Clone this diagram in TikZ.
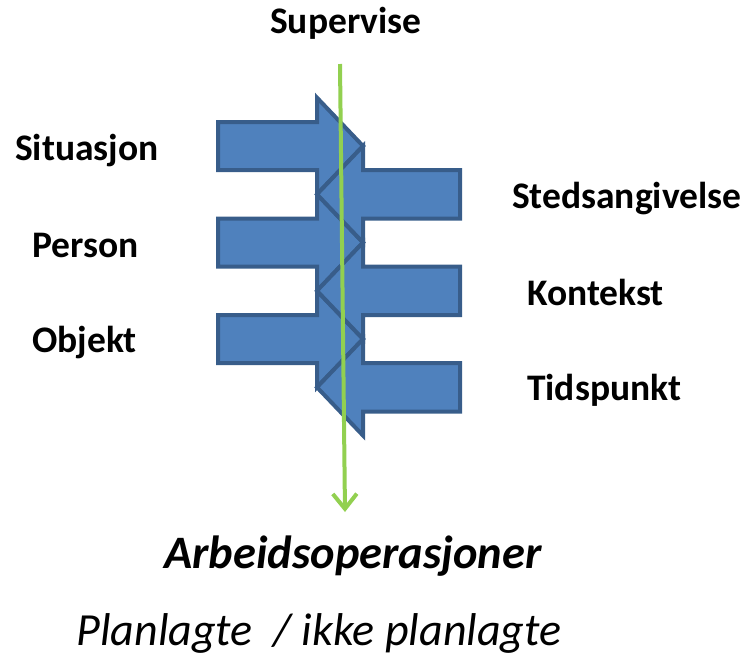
\documentclass[tikz,border=0pt]{standalone}
\usepackage{fontspec}
\setmainfont{Carlito}
\usepackage{tikz}
\usetikzlibrary{arrows.meta}

\definecolor{arrowfill}{HTML}{4F81BD}
\definecolor{arrowline}{HTML}{385D8A}
\definecolor{supgreen}{HTML}{92D050}

\tikzset{
  blockarrow/.style={fill=arrowfill, draw=arrowline, line width=4pt, line join=miter},
  sidelabel/.style={anchor=base west, inner sep=0pt, font=\fontsize{37.5}{44}\selectfont\bfseries},
}

\begin{document}
\begin{tikzpicture}[x=1pt, y=-1pt]
      \useasboundingbox (0, 0) rectangle (744, 659);
      % arrows pointing right
      \draw[blockarrow] (218, 122) -- (317, 122) -- (317, 97.7) -- (363, 146) -- (317, 194.3) -- (317, 170) -- (218, 170) -- cycle;
      \draw[blockarrow] (218, 218.5) -- (317, 218.5) -- (317, 194.3) -- (363, 242.5) -- (317, 290.8) -- (317, 266.5) -- (218, 266.5) -- cycle;
      \draw[blockarrow] (218, 315) -- (317, 315) -- (317, 290.8) -- (363, 339) -- (317, 387.3) -- (317, 363) -- (218, 363) -- cycle;
      % arrows pointing left
      \draw[blockarrow] (460, 170) -- (363, 170) -- (363, 146) -- (317, 194.3) -- (363, 242.5) -- (363, 218.5) -- (460, 218.5) -- cycle;
      \draw[blockarrow] (460, 266.5) -- (363, 266.5) -- (363, 242.5) -- (317, 290.8) -- (363, 339) -- (363, 315) -- (460, 315) -- cycle;
      \draw[blockarrow] (460, 363) -- (363, 363) -- (363, 339) -- (317, 387.3) -- (363, 435.5) -- (363, 411.5) -- (460, 411.5) -- cycle;
      % supervise line
      \coordinate (suptop) at (340, 64);
      \coordinate (supend) at (345, 512);
      \draw[supgreen, line width=4pt, -{Straight Barb[length=15pt, width=24pt]}] (suptop) -- (supend);
      % labels
      \node[sidelabel] (supervise) at (270, 33) {Supervise};
      \node[sidelabel] (situasjon) at (15, 160) {Situasjon};
      \node[sidelabel] (person) at (32, 257) {Person};
      \node[sidelabel] (objekt) at (32, 352) {Objekt};
      \node[sidelabel] (sted) at (512, 208) {Stedsangivelse};
      \node[sidelabel] (kontekst) at (527, 305) {Kontekst};
      \node[sidelabel] (tidspunkt) at (527, 400) {Tidspunkt};
      \node[anchor=base, inner sep=0pt, font=\fontsize{46.5}{54}\selectfont\bfseries\itshape] (arbeid) at (353, 568) {Arbeidsoperasjoner};
      \node[anchor=base, inner sep=0pt, font=\fontsize{46}{54}\selectfont\itshape] (planlagte) at (319, 645) {Planlagte~~/ ikke planlagte};
\end{tikzpicture}
\end{document}
